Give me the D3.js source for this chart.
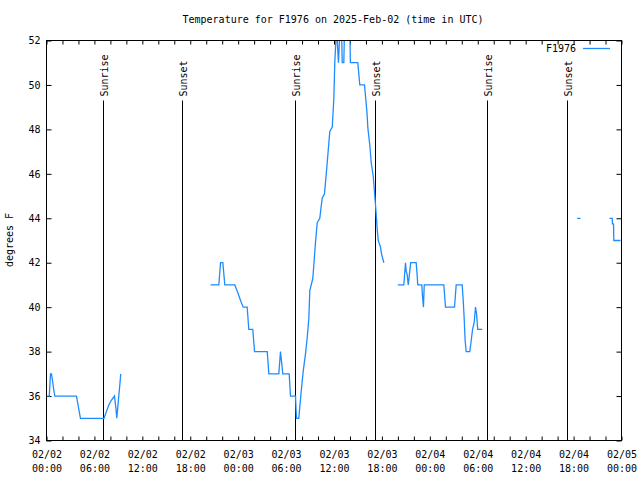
<!DOCTYPE html>
<html><head><meta charset="utf-8">
<script src="https://cdn.jsdelivr.net/npm/d3@7"></script>
<style>
html,body{margin:0;padding:0;background:#fff;}
svg text{font-family:"DejaVu Sans Mono",monospace;font-size:10px;fill:#000;}
</style></head>
<body>
<svg id="chart" width="640" height="480"></svg>
<script>
// hours after 2025-02-02 00:00 UTC; null = gap
const hoursUTC = [
 0.08,0.35,0.5,0.62,0.75,0.9,1.05,1.25,3.75,3.9,4.1,4.25,7.2,7.5,7.8,8.1,8.51,8.68,8.8,8.93,9.05,9.18,9.3,
 null,
 20.54,21.58,21.79,22.08,22.33,23.58,23.8,24.0,24.2,24.4,24.63,25.13,25.33,25.83,26.05,27.64,27.84,29.09,29.3,29.59,30.39,30.55,31.18,31.3,31.59,
 31.89,32.14,32.43,32.64,32.85,32.97,33.35,33.68,33.9,34.22,34.52,34.81,35.15,35.47,35.78,35.98,36.1,36.31,36.56,36.75,36.94,37.03,37.23,37.32,37.98,38.05,
 38.98,39.23,39.82,40.07,40.16,40.23,40.48,40.66,40.91,41.11,41.24,41.41,41.54,41.82,41.95,42.24,
 null,
 43.99,44.74,44.85,44.95,45.05,45.15,45.3,45.45,45.6,46.29,46.4,46.49,46.99,47.1,47.2,47.3,47.46,49.75,49.96,51.09,51.3,52.05,52.18,52.3,52.42,52.55,
 53.0,53.15,53.35,53.55,53.72,53.85,54.0,54.56,
 null,
 66.45,66.87,
 null,
 70.5,70.84,70.86,71.0,71.04,71.88
];
const tempF = [
 36,36,37,37,36.7,36.3,36,36,36,35.7,35.3,35,35,35.3,35.6,35.8,36,35.5,35,35.5,36,36.5,37,
 null,
 41,41,42,42,41,41,40.8,40.6,40.4,40.2,40,40,39,39,38,38,37,37,38,37,37,36,36,35,35,
 36.2,37.1,37.9,38.6,39.5,40.75,41.3,42.9,43.8,44.0,44.9,45.1,46.5,47.9,48.1,49.4,51,52.6,51,52.6,52.6,51,51,52.6,52.6,51,
 51,50,50,49,48.6,48.1,47.3,46.5,45.9,45.0,44.4,43.5,43.0,42.7,42.4,42.0,
 null,
 41,41,41.5,42,41.6,41.5,41,41.5,42,42,41.5,41,41,40.4,40,41,41,41,40,40,41,41,40.3,39.5,38.5,38,
 38,38.4,39,39.3,40,39.7,39,39,
 null,
 44,44,
 null,
 44,44,43.75,43.75,43,43
];
const sunEvents = ["Sunrise","Sunset","Sunrise","Sunset","Sunrise","Sunset"];
const sunHours  = [7.17, 17.08, 31.17, 41.2, 55.2, 65.2];
const yTicks = [34,36,38,40,42,44,46,48,50,52];
const seriesName = "F1976";
const titleText = "Temperature for F1976 on 2025-Feb-02 (time in UTC)";
const yLabel = "degrees F";

const t0 = Date.UTC(2025,1,2,0,0);
const toDate = h => new Date(t0 + h*3600000);
const data = hoursUTC.map((h,i)=> h===null ? null : {t: toDate(h), v: tempF[i]});

const svg = d3.select("#chart");
const m = {l:46, t:40, r:19, b:40};
const W = 640 - m.l - m.r, H = 480 - m.t - m.b;
const x = d3.scaleUtc().domain([toDate(0), toDate(72)]).range([0, W]);
const y = d3.scaleLinear().domain([34,52]).range([H, 0]);
const g = svg.append("g").attr("transform", `translate(${m.l+0.5},${m.t+0.5})`);

svg.append("text").attr("x",333).attr("y",23).attr("text-anchor","middle").text(titleText);
svg.append("text").attr("transform","translate(13,240) rotate(-90)").attr("text-anchor","middle").text(yLabel);

const xTickVals = d3.range(0,73,2).map(toDate);
const fmtD = d3.utcFormat("%m/%d"), fmtT = d3.utcFormat("%H:%M");
const xAxis = g.append("g").attr("transform",`translate(0,${H})`)
 .call(d3.axisBottom(x).tickValues(xTickVals).tickSizeInner(-4).tickSizeOuter(0).tickPadding(10).tickFormat(""));
xAxis.select(".domain").remove();
xAxis.selectAll(".tick").each(function(d){
  const hr = (d - t0)/3600000;
  if (hr % 6 === 0) {
    const t = d3.select(this).append("text").attr("y",17).attr("text-anchor","middle").attr("fill","#000");
    t.append("tspan").attr("x",0).text(fmtD(d));
    t.append("tspan").attr("x",0).attr("dy",14).text(fmtT(d));
  }
});
const xTop = g.append("g").call(d3.axisTop(x).tickValues(xTickVals).tickSizeInner(-4).tickSizeOuter(0).tickFormat(""));
xTop.select(".domain").remove();
const yAxis = g.append("g").call(d3.axisLeft(y).tickValues(yTicks).tickSizeInner(-5).tickSizeOuter(0).tickPadding(6));
yAxis.select(".domain").remove();
const yRight = g.append("g").attr("transform",`translate(${W},0)`).call(d3.axisRight(y).tickValues(yTicks).tickSizeInner(-5).tickSizeOuter(0).tickFormat(""));
yRight.select(".domain").remove();
g.selectAll(".tick line").attr("stroke","#000");
g.selectAll(".tick text").style("font-family","'DejaVu Sans Mono',monospace").style("font-size","10px");

svg.append("defs").append("clipPath").attr("id","clip").append("rect").attr("width",W).attr("height",H);

// sun lines
sunHours.forEach((h,i)=>{
  const sx = Math.round(x(toDate(h)));
  g.append("line").attr("x1",sx).attr("x2",sx).attr("y1",60).attr("y2",H).attr("stroke","#000");
  g.append("text").attr("transform",`translate(${sx+4},${56}) rotate(-90)`).attr("text-anchor","start").text(sunEvents[i]);
});

const line = d3.line().defined(d=>d!==null).x(d=>x(d.t)).y(d=>y(d.v));
g.append("path").datum(data).attr("clip-path","url(#clip)").attr("fill","none").attr("stroke","#1e8cff").attr("stroke-width",1.3).attr("d",line);

g.append("rect").attr("width",W).attr("height",H).attr("fill","none").attr("stroke","#000");

// legend
svg.append("text").attr("x",576).attr("y",52).attr("text-anchor","end").text(seriesName);
svg.append("line").attr("x1",583).attr("x2",610).attr("y1",48.5).attr("y2",48.5).attr("stroke","#1e8cff").attr("stroke-width",1.3);
</script>
</body></html>
